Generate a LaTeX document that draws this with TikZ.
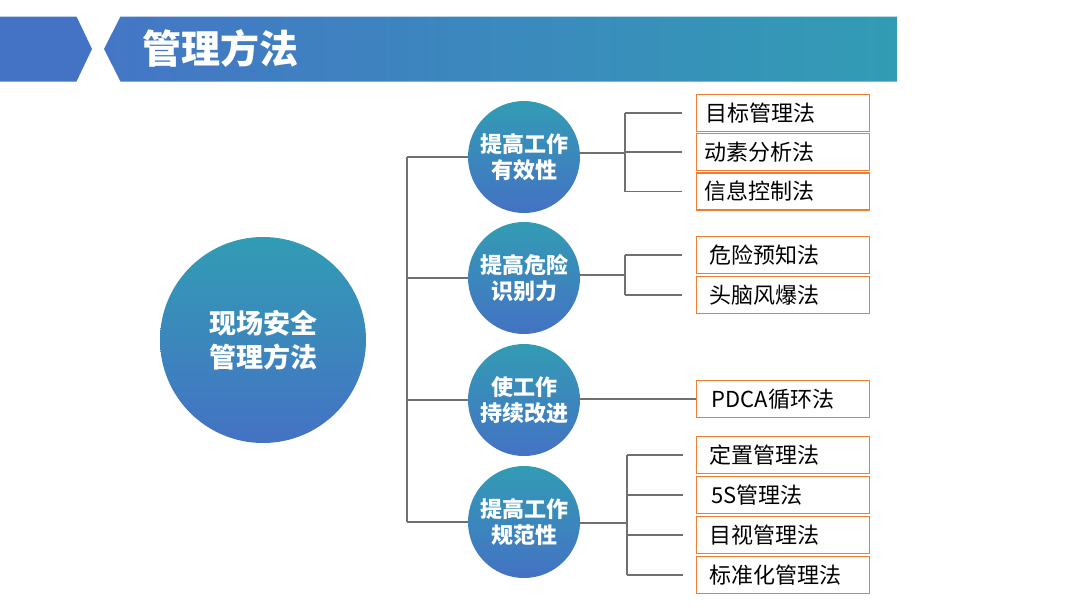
\documentclass[tikz,border=0pt]{standalone}
\usepackage{fontspec}
\newfontfamily\cjk{Noto Sans CJK SC}
\usetikzlibrary{calc}
\definecolor{tealc}{RGB}{50,156,180}
\definecolor{bluec}{RGB}{68,114,196}
\definecolor{bandl}{RGB}{68,118,198}
\definecolor{linec}{RGB}{112,112,112}
\definecolor{boxc}{RGB}{237,125,49}
\tikzset{
  bigcirc/.style={circle, minimum size=206pt, inner sep=0pt, top color=tealc, bottom color=bluec, draw=none, text=white, align=center, font=\cjk\bfseries\fontsize{27}{34}\selectfont},
  subcirc/.style={circle, minimum size=112pt, inner sep=0pt, top color=tealc, bottom color=bluec, draw=none, text=white, align=center, font=\cjk\bfseries\fontsize{22}{26}\selectfont},
  mbox/.style={draw=boxc, line width=1.2pt, anchor=west, minimum height=37pt, inner ysep=0pt, inner xsep=#1, text width=173pt-2*#1, align=left, font=\cjk\fontsize{22}{24}\selectfont, text=black},
  mbox/.default=13pt,
  conn/.style={draw=linec, line width=1.3pt}
}
\begin{document}
\begin{tikzpicture}[x=1pt,y=-1pt]
\useasboundingbox (0,0) rectangle (1080,608);
% header
\fill[bluec] (0,16.5) -- (76.5,16.5) -- (92,49) -- (76.5,81.5) -- (0,81.5) -- cycle;
\shade[left color=bandl, right color=tealc] (120.5,16.5) -- (897,16.5) -- (897,81.5) -- (120.5,81.5) -- (104,49) -- cycle;
\node[anchor=west, text=white, inner sep=0pt, font=\cjk\bfseries\fontsize{39}{39}\selectfont] (title) at (142,48) {管理方法};
% main circle
\node[bigcirc] (root) at (263,340) {现场安全\\管理方法};
% sub circles
\node[subcirc] (c1) at (524,157) {提高工作\\有效性};
\node[subcirc] (c2) at (524,278) {提高危险\\识别力};
\node[subcirc] (c3) at (524,400) {使工作\\持续改进};
\node[subcirc] (c4) at (524,522) {提高工作\\规范性};
% boxes
\node[mbox=9pt] (b1) at (696,113) {目标管理法};
\node[mbox=8pt] (b2) at (696,152) {动素分析法};
\node[mbox=8pt] (b3) at (696,191.5) {信息控制法};
\node[mbox] (b4) at (696,255) {危险预知法};
\node[mbox] (b5) at (696,295) {头脑风爆法};
\node[mbox=15pt] (b6) at (696,399) {PDCA循环法};
\node[mbox] (b7) at (696,455) {定置管理法};
\node[mbox=15pt] (b8) at (696,495) {5S管理法};
\node[mbox] (b9) at (696,535) {目视管理法};
\node[mbox] (b10) at (696,575) {标准化管理法};
% trunk
\coordinate (t) at (407,0);
\draw[conn] (t |- c1) -- (t |- c4);
\draw[conn] (t |- c1) -- (c1.west);
\draw[conn] (t |- c2) -- (c2.west);
\draw[conn] (t |- c3) -- (c3.west);
\draw[conn] (t |- c4) -- (c4.west);
% group 1
\coordinate (j1) at (625,153);
\draw[conn] (c1.east |- j1) -- (j1);
\draw[conn] (j1 |- b1) -- (j1 |- b3);
\draw[conn] (j1 |- b1) -- ($(b1.west)+(-14,0)$);
\draw[conn] (j1 |- b2) -- ($(b2.west)+(-14,0)$);
\draw[conn] (j1 |- b3) -- ($(b3.west)+(-14,0)$);
% group 2
\coordinate (j2) at (625,275);
\draw[conn] (c2.east |- j2) -- (j2);
\draw[conn] (j2 |- b4) -- (j2 |- b5);
\draw[conn] (j2 |- b4) -- ($(b4.west)+(-14,0)$);
\draw[conn] (j2 |- b5) -- ($(b5.west)+(-14,0)$);
% group 3
\draw[conn] (c3.east |- b6) -- (b6.west);
% group 4
\coordinate (j4) at (627,523);
\draw[conn] (c4.east |- j4) -- (j4);
\draw[conn] (j4 |- b7) -- (j4 |- b10);
\draw[conn] (j4 |- b7) -- ($(b7.west)+(-13,0)$);
\draw[conn] (j4 |- b8) -- ($(b8.west)+(-13,0)$);
\draw[conn] (j4 |- b9) -- ($(b9.west)+(-13,0)$);
\draw[conn] (j4 |- b10) -- ($(b10.west)+(-13,0)$);
\end{tikzpicture}
\end{document}
